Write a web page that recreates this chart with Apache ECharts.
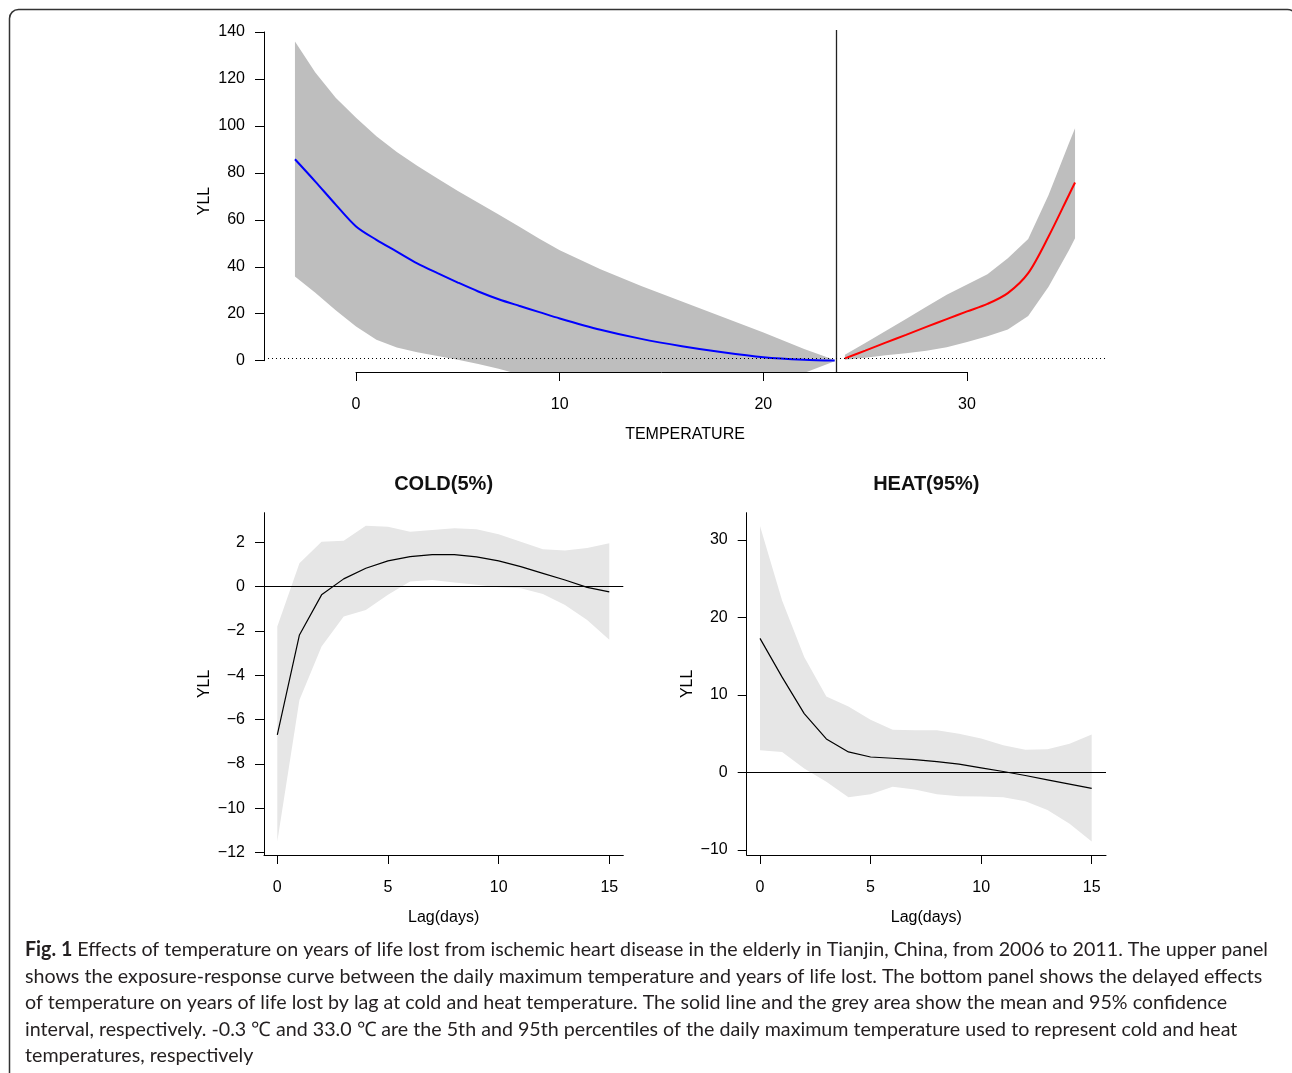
<!DOCTYPE html>
<html>
<head>
<meta charset="utf-8">
<title>YLL temperature</title>
<script src="https://cdn.jsdelivr.net/npm/echarts@6/dist/echarts.min.js"></script>
<style>
  html, body { margin: 0; padding: 0; background: #fff; }
  #chart { width: 1292px; height: 1073px; }
</style>
</head>
<body>
<div id="chart"></div>
<script>
// top panel: exposure-response, cold side (blue) and heat side (red)
const coldTemps = [-3, -2, -1, 0, 1, 2, 3, 4, 5, 6, 7, 8, 9, 10, 12, 14, 16, 18, 20, 22, 23.5]
const coldMean = [85.8, 76.3, 66.5, 57.2, 51.5, 46.5, 41.5, 37.3, 33.3, 29.5, 26.2, 23.4, 20.7, 18.0, 13.2, 9.3, 6.2, 3.6, 1.5, 0.4, 0.05]
const coldUpper = [135.9, 122.8, 112.0, 103.5, 95.6, 88.9, 83.0, 77.6, 72.3, 67.3, 62.3, 57.2, 52.0, 47.0, 39.0, 31.8, 25.2, 18.6, 12.0, 5.0, 0.3]
const coldLower = [35.9, 29.0, 21.5, 14.6, 8.9, 5.6, 3.6, 2.0, 0.4, -1.4, -3.4, -5.8, -7.2, -8.5, -10.0, -10.5, -10.2, -9.0, -7.4, -5.2, -0.2]

const heatTemps = [24, 25, 26, 27, 28, 29, 30, 31, 32, 33, 34, 35, 35.3]
const heatMean = [1.0, 4.3, 7.7, 11.0, 14.4, 17.7, 21.0, 24.2, 28.8, 37.3, 52.9, 70.6, 75.9]
const heatUpper = [2.5, 7.6, 12.7, 17.8, 23.0, 28.1, 32.5, 36.8, 43.6, 51.8, 70.6, 92.6, 99.0]
const heatLower = [0.4, 1.3, 2.3, 3.2, 4.3, 5.7, 8.0, 10.4, 13.3, 19.0, 31.5, 47.0, 52.2]

const mmt = 23.6
const refLine = 1

// bottom panels: lag-response
const lags = [0, 1, 2, 3, 4, 5, 6, 7, 8, 9, 10, 11, 12, 13, 14, 15]
const coldLagMean = [-6.69, -2.18, -0.37, 0.35, 0.83, 1.16, 1.35, 1.44, 1.44, 1.34, 1.16, 0.9, 0.6, 0.3, -0.03, -0.24]
const coldLagUpper = [-1.8, 1.05, 2.03, 2.07, 2.75, 2.7, 2.48, 2.55, 2.63, 2.59, 2.36, 2.03, 1.69, 1.63, 1.74, 1.96]
const coldLagLower = [-11.5, -5.11, -2.7, -1.35, -1.05, -0.37, 0.23, 0.3, 0.19, 0.08, -0.03, -0.07, -0.33, -0.83, -1.5, -2.4]

const heatLagMean = [17.3, 12.3, 7.6, 4.33, 2.65, 2.0, 1.84, 1.67, 1.41, 1.07, 0.6, 0.13, -0.39, -0.95, -1.5, -2.06]
const heatLagUpper = [31.8, 22.2, 14.9, 9.8, 8.5, 6.8, 5.5, 5.45, 5.45, 5.0, 4.4, 3.5, 2.95, 3.0, 3.7, 4.9]
const heatLagLower = [2.87, 2.65, 0.5, -1.2, -3.2, -2.8, -1.85, -2.2, -2.8, -3.05, -3.1, -3.2, -3.7, -4.85, -6.6, -8.9]

// tick labels
const tempTicks = [0, 10, 20, 30]
const yllTicks = [0, 20, 40, 60, 80, 100, 120, 140]
const lagTicks = [0, 5, 10, 15]
const coldYTicks = [-12, -10, -8, -6, -4, -2, 0, 2]
const heatYTicks = [-10, 0, 10, 20, 30]

const captionLines = [
  ' Effects of temperature on years of life lost from ischemic heart disease in the elderly in Tianjin, China, from 2006 to 2011. The upper panel',
  'shows the exposure-response curve between the daily maximum temperature and years of life lost. The bottom panel shows the delayed effects',
  'of temperature on years of life lost by lag at cold and heat temperature. The solid line and the grey area show the mean and 95% confidence',
  'interval, respectively. -0.3 \u2103 and 33.0 \u2103 are the 5th and 95th percentiles of the daily maximum temperature used to represent cold and heat',
  'temperatures, respectively'
]

const FONT = '"Liberation Sans", Arial, Helvetica, sans-serif'
const CAP_FONT = 'Lato, "Open Sans", sans-serif'
const INK = '#111'

const minus = v => (v < 0 ? '\u2212' + (-v) : String(v))

function pairs (xs, ys) {
  return xs.map((x, i) => [x, ys[i]])
}

// confidence band as one polygon, upper edge then lower edge back
function band (xs, lo, hi, idx, color) {
  return {
    type: 'custom',
    xAxisIndex: idx,
    yAxisIndex: idx,
    clip: true,
    silent: true,
    z: 1,
    data: xs.map((x, i) => [x, lo[i], hi[i]]),
    encode: { x: 0, y: [1, 2] },
    renderItem (params, api) {
      if (params.dataIndex !== 0) return null
      const pts = []
      for (let i = 0; i < xs.length; i++) pts.push(api.coord([xs[i], hi[i]]))
      for (let i = xs.length - 1; i >= 0; i--) pts.push(api.coord([xs[i], lo[i]]))
      return {
        type: 'polygon',
        shape: { points: pts },
        style: { fill: color, stroke: null }
      }
    }
  }
}

function meanLine (xs, ys, idx, color, width, smooth) {
  return {
    type: 'line',
    xAxisIndex: idx,
    yAxisIndex: idx,
    data: pairs(xs, ys),
    symbol: 'none',
    silent: true,
    smooth: smooth || false,
    z: 3,
    lineStyle: { color: color, width: width }
  }
}

const labelStyle = { fontFamily: FONT, fontSize: 16, color: '#000' }
const lineBlack = { color: '#000', width: 1 }
const nameStyle = { fontFamily: FONT, fontSize: 16, color: '#000' }

function hiddenAxis (idx, min, max, extra) {
  return Object.assign({
    type: 'value',
    gridIndex: idx,
    min: min,
    max: max,
    axisLine: { show: false, onZero: false },
    axisTick: { show: false },
    axisLabel: { show: false },
    splitLine: { show: false }
  }, extra || {})
}

function tickAxis (idx, min, max, ticks, margin, extra) {
  return Object.assign({
    type: 'value',
    gridIndex: idx,
    min: min,
    max: max,
    axisLine: { show: true, onZero: false, lineStyle: lineBlack },
    axisTick: { show: true, length: 9, customValues: ticks, lineStyle: lineBlack },
    axisLabel: Object.assign({ customValues: ticks, formatter: minus, margin: margin }, labelStyle),
    splitLine: { show: false }
  }, extra || {})
}

function named (name, gap, rotate) {
  const o = { name: name, nameLocation: 'middle', nameGap: gap, nameTextStyle: nameStyle }
  if (rotate) o.nameRotate = 90
  return o
}

// caption scale so the text runs the width of the figure
const ctx = document.createElement('canvas').getContext('2d')
ctx.font = 'bold 20px ' + CAP_FONT
const wBold = ctx.measureText('Fig. 1').width
ctx.font = '20px ' + CAP_FONT
const capScale = 1243 / (wBold + ctx.measureText(captionLines[0]).width)

const caption = captionLines.map((t, i) => ({
  type: 'text',
  x: 25,
  y: 950 + i * 26.5,
  scaleX: capScale,
  silent: true,
  style: {
    text: i === 0 ? '{b|Fig. 1}' + t : t,
    font: '20px ' + CAP_FONT,
    fill: '#231f20',
    verticalAlign: 'middle',
    rich: {
      b: { fontWeight: 'bold', fontSize: 20, fontFamily: CAP_FONT, fill: '#231f20' }
    }
  }
}))

function zeroLine () {
  return {
    silent: true,
    symbol: ['none', 'none'],
    label: { show: false },
    lineStyle: { color: '#000', width: 1, type: 'solid' },
    data: [{ yAxis: 0 }]
  }
}

const chart = echarts.init(document.getElementById('chart'))

const option = {
  animation: false,
  backgroundColor: '#fff',
  grid: [
    { left: 264, top: 30, width: 842, height: 342, outerBoundsMode: 'none' },
    { left: 356, top: 371, width: 611, height: 1, outerBoundsMode: 'none' },
    { left: 264, top: 32, width: 1, height: 328.7, outerBoundsMode: 'none' },
    { left: 264, top: 512.7, width: 359.3, height: 342.3, outerBoundsMode: 'none' },
    { left: 746.7, top: 512.7, width: 359.3, height: 342.3, outerBoundsMode: 'none' }
  ],
  xAxis: [
    hiddenAxis(0, -4.52, 36.82, named('TEMPERATURE', 55)),
    tickAxis(1, 0, 30, tempTicks, 25, { interval: 10 }),
    hiddenAxis(2, 0, 1, { show: false }),
    tickAxis(3, -0.601, 15.633, lagTicks, 25, named('Lag(days)', 55)),
    tickAxis(4, -0.601, 15.647, lagTicks, 25, named('Lag(days)', 55))
  ],
  yAxis: [
    hiddenAxis(0, -4.8, 140.85, named('YLL', 51, true)),
    hiddenAxis(1, 0, 1, { show: false }),
    tickAxis(2, 0, 140, yllTicks, 19, { interval: 20 }),
    tickAxis(3, -12.104, 3.335, coldYTicks, 19, named('YLL', 51, true)),
    tickAxis(4, -10.645, 33.52, heatYTicks, 19, named('YLL', 51, true))
  ],
  series: [
    band(coldTemps, coldLower, coldUpper, 0, '#bebebe'),
    band(heatTemps, heatLower, heatUpper, 0, '#bebebe'),
    Object.assign(meanLine(coldTemps, coldMean, 0, '#0000ff', 2, 0.3), {
      markLine: {
        silent: true,
        symbol: ['none', 'none'],
        label: { show: false },
        data: [
          { xAxis: mmt, lineStyle: { color: '#222', width: 1.3, type: 'solid' } },
          { yAxis: refLine, lineStyle: { color: '#000', width: 1, type: [1, 3] } }
        ]
      }
    }),
    meanLine(heatTemps, heatMean, 0, '#ff0000', 2, 0.3),

    band(lags, coldLagLower, coldLagUpper, 3, '#e6e6e6'),
    Object.assign(meanLine(lags, coldLagMean, 3, '#000', 1.2), { markLine: zeroLine() }),
    band(lags, heatLagLower, heatLagUpper, 4, '#e6e6e6'),
    Object.assign(meanLine(lags, heatLagMean, 4, '#000', 1.2), { markLine: zeroLine() })
  ],
  graphic: [
    {
      type: 'rect',
      silent: true,
      shape: { x: 9.5, y: 9.5, width: 1287, height: 1100, r: 9 },
      style: { fill: 'none', stroke: '#333', lineWidth: 1.5 }
    },
    {
      type: 'text', x: 443.6, y: 484, silent: true,
      style: { text: 'COLD(5%)', font: 'bold 20px ' + FONT, fill: INK, align: 'center', verticalAlign: 'middle' }
    },
    {
      type: 'text', x: 926.3, y: 484, silent: true,
      style: { text: 'HEAT(95%)', font: 'bold 20px ' + FONT, fill: INK, align: 'center', verticalAlign: 'middle' }
    },
    ...caption
  ]
}

chart.setOption(option)
</script>
</body>
</html>
